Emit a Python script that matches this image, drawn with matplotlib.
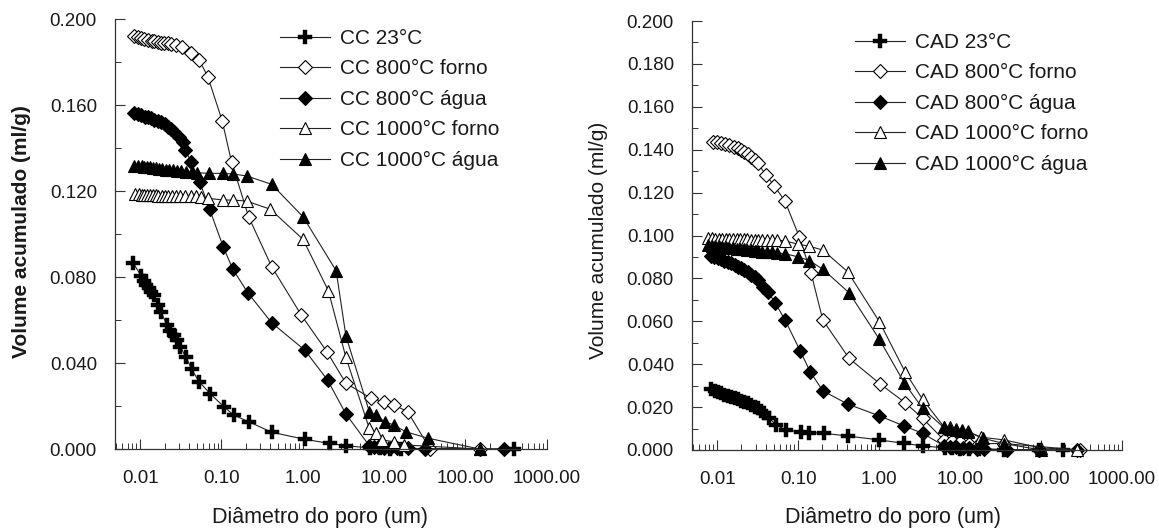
import matplotlib
matplotlib.use("Agg")
import matplotlib.pyplot as plt
from matplotlib.ticker import FixedLocator, FixedFormatter, MultipleLocator, FormatStrFormatter, LogLocator, NullFormatter

plt.rcParams['font.family'] = ['Liberation Sans', 'DejaVu Sans']

# ---------------- data: CC (left) ----------------
cc23_x = [0.0082, 0.0103, 0.0111, 0.0118, 0.0128, 0.0136, 0.0147, 0.0164, 0.018, 0.0213, 0.0234, 0.0258,
          0.0283, 0.031, 0.0364, 0.0431, 0.053, 0.0733, 0.107, 0.141, 0.216, 0.415, 1.06, 2.14, 3.42,
          6.8, 9.0, 12.0, 16.0, 400]
cc23_y = [0.0865, 0.0805, 0.0783, 0.0763, 0.0749, 0.0732, 0.0716, 0.067, 0.0639, 0.0577, 0.055, 0.053,
          0.0507, 0.0476, 0.0429, 0.0371, 0.0313, 0.0256, 0.0197, 0.0158, 0.0127, 0.0078, 0.0045, 0.0026, 0.0015,
          0.0005, 0.0003, 0.0002, 0.0001, 0.0]

cc800f_x = [0.0085, 0.0095, 0.0103, 0.0112, 0.0124, 0.0138, 0.0150, 0.0164, 0.018, 0.0195, 0.0218, 0.024,
            0.0275, 0.0331, 0.0419, 0.053, 0.068, 0.102, 0.133, 0.216, 0.415, 0.96, 1.98, 3.4, 6.9, 10.0,
            13.2, 19.5, 37, 150]
cc800f_y = [0.1921, 0.1915, 0.191, 0.1906, 0.1902, 0.1898, 0.1896, 0.1894, 0.189, 0.1889, 0.1887, 0.1883,
            0.1879, 0.1868, 0.184, 0.181, 0.1732, 0.1527, 0.1336, 0.108, 0.0848, 0.0623, 0.0453, 0.0306, 0.0236,
            0.022, 0.0205, 0.0174, 0.0, 0.0]

cc800a_x = [0.0084, 0.0094, 0.0103, 0.0115, 0.0125, 0.0136, 0.015, 0.0165, 0.018, 0.02, 0.0218, 0.024,
            0.0262, 0.03, 0.0335, 0.036, 0.0427, 0.054, 0.0714, 0.105, 0.138, 0.211, 0.415, 1.06, 2.02, 3.4,
            6.6, 7.5, 8.5, 10.0, 12.0, 14.5, 20.0, 32, 300]
cc800a_y = [0.1564, 0.1558, 0.1553, 0.1546, 0.1542, 0.1538, 0.1532, 0.1527, 0.1522, 0.151, 0.1499, 0.149,
            0.1476, 0.1453, 0.143, 0.139, 0.1333, 0.1243, 0.1116, 0.0941, 0.0836, 0.0727, 0.0587, 0.046, 0.0321,
            0.0163, 0.0015, 0.001, 0.0008, 0.0006, 0.0005, 0.0004, 0.0003, 0.0002, 0.0]

cc1000f_x = [0.0087, 0.0097, 0.0105, 0.0113, 0.0122, 0.0132, 0.0143, 0.0155, 0.0168, 0.0183, 0.02, 0.022,
             0.0245, 0.0275, 0.031, 0.036, 0.042, 0.048, 0.0555, 0.068, 0.106, 0.14, 0.205, 0.40, 1.01, 2.07,
             3.4, 6.6, 8.0, 9.5, 13.2, 17.6, 150]
cc1000f_y = [0.1185, 0.1184, 0.1183, 0.1182, 0.1182, 0.1181, 0.118, 0.118, 0.1179, 0.1179, 0.1178, 0.1178,
             0.1177, 0.1177, 0.1176, 0.1176, 0.1175, 0.1175, 0.1174, 0.1166, 0.1158, 0.1158, 0.1153, 0.1115,
             0.0975, 0.0736, 0.0426, 0.0096, 0.0073, 0.0042, 0.0034, 0.0019, 0.0]

cc1000a_x = [0.0085, 0.0095, 0.0104, 0.0113, 0.0122, 0.0133, 0.0145, 0.0158, 0.0172, 0.0188, 0.0205,
             0.0225, 0.025, 0.028, 0.032, 0.037, 0.043, 0.050, 0.070, 0.105, 0.14, 0.205, 0.415, 1.01, 2.58,
             3.4, 6.6, 8.0, 10.2, 13.2, 18.5, 35, 150]
cc1000a_y = [0.1318, 0.1316, 0.1314, 0.1312, 0.1311, 0.131, 0.1308, 0.1306, 0.1304, 0.1302, 0.13,
             0.1298, 0.1296, 0.1294, 0.1291, 0.1289, 0.1287, 0.1285, 0.1282, 0.1282, 0.1279, 0.127, 0.1231,
             0.108, 0.0829, 0.0526, 0.0174, 0.0158, 0.0127, 0.0112, 0.008, 0.005, 0.0]

# ---------------- data: CAD (right) ----------------
cad23_x = [0.0084, 0.0093, 0.0102, 0.0112, 0.0123, 0.0135, 0.0149, 0.0165, 0.018, 0.0198, 0.0218, 0.024,
           0.0263, 0.029, 0.0318, 0.035, 0.0384, 0.0442, 0.0534, 0.071, 0.109, 0.1375, 0.21, 0.41, 1.01,
           2.04, 3.45, 6.5, 8, 10, 13, 17, 35, 95, 185]
cad23_y = [0.0283, 0.0277, 0.0272, 0.0264, 0.0256, 0.0252, 0.0248, 0.0242, 0.0236, 0.023, 0.0225, 0.0218,
           0.021, 0.0202, 0.0194, 0.0183, 0.0171, 0.0148, 0.0117, 0.0093, 0.0085, 0.0081, 0.0078, 0.0065,
           0.0047, 0.0031, 0.0019, 0.001, 0.0008, 0.0006, 0.0005, 0.0004, 0.0002, 0.0001, 0.0]

cad800f_x = [0.0089, 0.01, 0.0112, 0.0126, 0.0142, 0.016, 0.018, 0.0198, 0.0217, 0.024, 0.0263, 0.029,
             0.0318, 0.0402, 0.0511, 0.069, 0.104, 0.145, 0.202, 0.427, 1.03, 2.09, 3.45, 6.3, 8, 10, 13,
             17, 35, 300]
cad800f_y = [0.1437, 0.1434, 0.143, 0.1426, 0.1422, 0.1414, 0.1406, 0.1398, 0.1391, 0.1379, 0.1367, 0.1352,
             0.1336, 0.1282, 0.123, 0.116, 0.0992, 0.0824, 0.0606, 0.0427, 0.0308, 0.0221, 0.0148, 0.0047,
             0.004, 0.0035, 0.003, 0.003, 0.003, 0.0]

cad800a_x = [0.0083, 0.0092, 0.0102, 0.0112, 0.0123, 0.0135, 0.0149, 0.0165, 0.018, 0.0198, 0.0218, 0.024,
             0.0263, 0.029, 0.0318, 0.0367, 0.0423, 0.052, 0.069, 0.106, 0.141, 0.202, 0.41, 1.01, 2.04, 3.45,
             6.3, 7.5, 9, 11, 13, 16, 20, 38, 95, 280]
cad800a_y = [0.0904, 0.0899, 0.0894, 0.0889, 0.0883, 0.0877, 0.087, 0.0862, 0.0855, 0.0847, 0.0839, 0.0828,
             0.0816, 0.0805, 0.0793, 0.0761, 0.0738, 0.0687, 0.0606, 0.0463, 0.0365, 0.0276, 0.0214, 0.0159,
             0.0112, 0.0078, 0.002, 0.0015, 0.0012, 0.001, 0.0008, 0.0006, 0.0005, 0.0002, 0.0001, 0.0]

cad1000f_x = [0.0077, 0.0086, 0.0095, 0.0105, 0.0116, 0.0128, 0.0142, 0.0157, 0.0174, 0.0192, 0.0212,
              0.0235, 0.026, 0.029, 0.032, 0.036, 0.041, 0.047, 0.055, 0.068, 0.099, 0.138, 0.202, 0.41, 1.01,
              2.09, 3.45, 6.3, 7.5, 9, 10.5, 12.4, 18, 35, 100, 280]
cad1000f_y = [0.0987, 0.0987, 0.0986, 0.0986, 0.0985, 0.0985, 0.0984, 0.0984, 0.0983, 0.0983, 0.0982,
              0.0982, 0.0981, 0.0981, 0.098, 0.098, 0.098, 0.0979, 0.0979, 0.0975, 0.096, 0.095, 0.0932, 0.0831,
              0.0598, 0.0365, 0.0236, 0.0109, 0.0105, 0.0098, 0.0092, 0.0088, 0.006, 0.0047, 0.001, 0.0]

cad1000a_x = [0.0077, 0.0086, 0.0095, 0.0105, 0.0116, 0.0128, 0.0142, 0.0157, 0.0174, 0.0192, 0.0212,
              0.0235, 0.026, 0.029, 0.032, 0.036, 0.041, 0.047, 0.055, 0.069, 0.099, 0.138, 0.202, 0.427, 1.01,
              2.04, 3.45, 6.3, 7.5, 9, 10.5, 12.4, 19, 35, 100]
cad1000a_y = [0.0955, 0.0953, 0.0951, 0.0949, 0.0947, 0.0945, 0.0943, 0.0941, 0.0939, 0.0937, 0.0935,
              0.0933, 0.0931, 0.0929, 0.0927, 0.0925, 0.0923, 0.0921, 0.0919, 0.0915, 0.0901, 0.0883, 0.0843,
              0.0733, 0.0516, 0.0314, 0.0194, 0.0105, 0.01, 0.0095, 0.009, 0.0085, 0.0055, 0.003, 0.0]

left_labels = ["CC 23°C", "CC 800°C forno", "CC 800°C água", "CC 1000°C forno", "CC 1000°C água"]
right_labels = ["CAD 23°C", "CAD 800°C forno", "CAD 800°C água", "CAD 1000°C forno", "CAD 1000°C água"]

x_ticks = [0.01, 0.1, 1, 10, 100, 1000]
x_ticklabels = ["0.01", "0.10", "1.00", "10.00", "100.00", "1000.00"]

ylabel = "Volume acumulado (ml/g)"
xlabel = "Diâmetro do poro (um)"

# ---------------- styles ----------------
styles = [
    dict(marker='P', ms=10, mfc='black', mec='black', mew=0.3),
    dict(marker='D', ms=7, mfc='white', mec='black', mew=0.8),
    dict(marker='D', ms=7, mfc='black', mec='black', mew=0.8),
    dict(marker='^', ms=9, mfc='white', mec='black', mew=0.8),
    dict(marker='^', ms=9, mfc='black', mec='black', mew=0.8),
]

W, H = 1159, 531
fig = plt.figure(figsize=(W / 100, H / 100), dpi=100)


def make_axes(px_l, px_r, px_t, px_b):
    return fig.add_axes([px_l / W, 1 - px_b / H, (px_r - px_l) / W, (px_b - px_t) / H])


ax1 = make_axes(115, 546.5, 19, 449)
ax2 = make_axes(692, 1122, 21, 450)


def style_axes(ax, ymajor, yminor):
    ax.set_xscale('log')
    ax.set_xlim(0.0049, 1000)
    ax.set_ylim(0, 0.2)
    for s in ['top', 'right']:
        ax.spines[s].set_visible(False)
    for s in ['left', 'bottom']:
        ax.spines[s].set_linewidth(0.9)
        ax.spines[s].set_color('#333333')
    ax.xaxis.set_major_locator(FixedLocator(x_ticks))
    ax.xaxis.set_major_formatter(FixedFormatter(x_ticklabels))
    ax.xaxis.set_minor_locator(LogLocator(base=10, subs=[2, 3, 4, 5, 6, 7, 8, 9], numticks=20))
    ax.xaxis.set_minor_formatter(NullFormatter())
    ax.yaxis.set_major_locator(MultipleLocator(ymajor))
    ax.yaxis.set_minor_locator(MultipleLocator(yminor))
    ax.yaxis.set_major_formatter(FormatStrFormatter('%.3f'))
    ax.tick_params(axis='both', which='major', direction='in', length=7, width=0.8,
                   labelsize=13.5, pad=13, color='#333333', labelcolor='#1a1a1a')
    ax.tick_params(axis='both', which='minor', direction='in', length=4, width=0.7, color='#333333')
    ax.tick_params(axis='x', which='major', pad=15)


style_axes(ax1, 0.04, 0.02)
style_axes(ax2, 0.02, 0.01)

left_series = [(cc23_x, cc23_y), (cc800f_x, cc800f_y), (cc800a_x, cc800a_y),
               (cc1000f_x, cc1000f_y), (cc1000a_x, cc1000a_y)]
right_series = [(cad23_x, cad23_y), (cad800f_x, cad800f_y), (cad800a_x, cad800a_y),
                (cad1000f_x, cad1000f_y), (cad1000a_x, cad1000a_y)]

for ax, series, labels in [(ax1, left_series, left_labels), (ax2, right_series, right_labels)]:
    for (xs, ys), st, lab in zip(series, styles, labels):
        ax.plot(xs, ys, color='#222222', lw=0.8, label=lab, clip_on=False, **st)

leg_kw = dict(frameon=False, fontsize=15, handlelength=2.4, handletextpad=0.5,
              labelspacing=0.55, borderpad=0, borderaxespad=0, loc='upper left',
              labelcolor='#1a1a1a')
ax1.legend(bbox_to_anchor=(280 / W, 1 - 29 / H), bbox_transform=fig.transFigure, **leg_kw)
ax2.legend(bbox_to_anchor=(855 / W, 1 - 33 / H), bbox_transform=fig.transFigure, **leg_kw)

fig.text(22 / W, 1 - 232 / H, ylabel, rotation=90, ha='center', va='center',
         fontsize=15, fontweight='bold', color='#1a1a1a')
fig.text(599 / W, 1 - 240 / H, ylabel, rotation=90, ha='center', va='center',
         fontsize=15, color='#1a1a1a')
fig.text(320 / W, 1 - 518 / H, xlabel, ha='center', va='center', fontsize=15.5, color='#1a1a1a')
fig.text(893 / W, 1 - 518 / H, xlabel, ha='center', va='center', fontsize=15.5, color='#1a1a1a')

fig.savefig('out.png', dpi=100, facecolor='white')
